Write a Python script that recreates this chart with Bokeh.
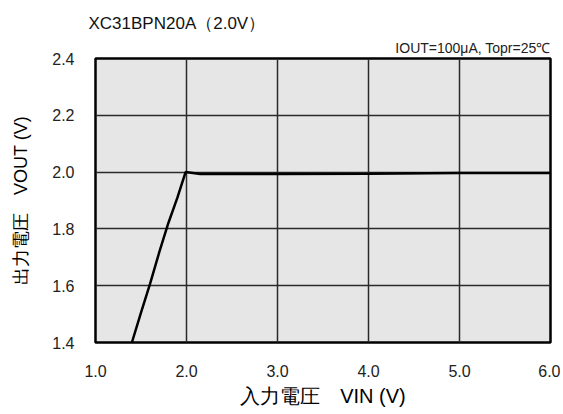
from bokeh.plotting import figure
from bokeh.models import Range1d, FixedTicker, Title
from bokeh.embed import file_html
from bokeh.resources import INLINE

# ---- data ----
vin = [1.40, 1.50, 1.60, 1.70, 1.80, 1.90, 1.99, 2.05, 2.15, 3.0, 4.0, 5.0, 6.0]
vout = [1.40, 1.505, 1.607, 1.717, 1.82, 1.91, 2.00, 1.998, 1.993, 1.993, 1.994, 1.997, 1.997]
x_ticks = [1.0, 2.0, 3.0, 4.0, 5.0, 6.0]
y_ticks = [1.4, 1.6, 1.8, 2.0, 2.2, 2.4]
x_tick_labels = {1.0: "1.0", 2.0: "2.0", 3.0: "3.0", 4.0: "4.0", 5.0: "5.0", 6.0: "6.0"}
y_tick_labels = {1.4: "1.4", 1.6: "1.6", 1.8: "1.8", 2.0: "2.0", 2.2: "2.2", 2.4: "2.4"}
title_text = "XC31BPN20A（2.0V）"
cond_text = "IOUT=100μA, Topr=25℃"
x_label = "入力電圧　VIN (V)"
y_label = "出力電圧　VOUT (V)"

W, H = 560, 412
LATIN = "Liberation Sans"

p = figure(width=W, height=H, output_backend="svg", toolbar_location=None,
           x_range=Range1d(1.0, 6.0), y_range=Range1d(1.4, 2.4),
           min_border_left=95, min_border_right=10, min_border_top=58, min_border_bottom=70)

p.background_fill_color = "#e6e6e6"
p.border_fill_color = "white"
p.outline_line_color = "black"
p.outline_line_width = 2.5

for ax in (p.xaxis[0], p.yaxis[0]):
    ax.axis_line_color = None
    ax.major_tick_line_color = None
    ax.minor_tick_line_color = None
    ax.major_tick_out = 0
    ax.major_tick_in = 0
    ax.major_label_text_font = LATIN
    ax.major_label_text_font_size = "16px"
    ax.major_label_text_color = "#222222"
    ax.axis_label_text_font = LATIN
    ax.axis_label_text_font_style = "normal"
    ax.axis_label_text_color = "#000000"

p.xaxis.ticker = FixedTicker(ticks=x_ticks)
p.yaxis.ticker = FixedTicker(ticks=y_ticks)
p.xaxis.major_label_overrides = x_tick_labels
p.yaxis.major_label_overrides = y_tick_labels
p.xaxis.major_label_standoff = 22
p.yaxis.major_label_standoff = 21
p.xaxis.axis_label = x_label
p.yaxis.axis_label = y_label
p.xaxis.axis_label_text_font_size = "20px"
p.yaxis.axis_label_text_font_size = "18px"
p.xaxis.axis_label_standoff = 5
p.yaxis.axis_label_standoff = 18

p.xgrid.ticker = FixedTicker(ticks=x_ticks)
p.ygrid.ticker = FixedTicker(ticks=y_ticks)
for g in (p.xgrid[0], p.ygrid[0]):
    g.grid_line_color = "#2a2a2a"
    g.grid_line_width = 1.5

p.line(vin, vout, line_color="black", line_width=2.5)

# chart title (outer, left aligned)
p.title.text = title_text
p.title.align = "left"
p.title.offset = -7
p.title.text_font = LATIN
p.title.text_font_size = "17px"
p.title.text_font_style = "normal"
p.title.text_color = "#111111"
p.title.standoff = 4

# condition text (nearest the frame, right aligned)
t = Title(text=cond_text, align="right", text_font=LATIN, text_font_size="14px",
          text_font_style="normal", text_color="#222222", standoff=6)
p.add_layout(t, "above")

open("out.html", "w").write(file_html(p, INLINE))
